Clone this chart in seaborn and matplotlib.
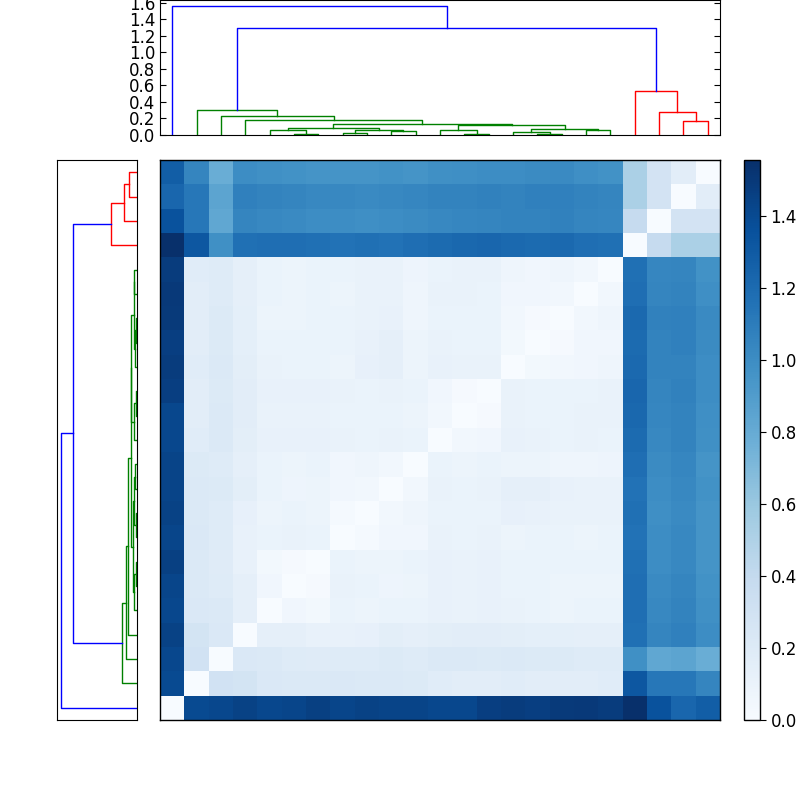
import numpy as np
import matplotlib
matplotlib.use('Agg')
import matplotlib.pyplot as plt
import seaborn as sns

# leaves are numbered in display order (left->right, bottom->top)
n_leaves = 23

# linkage: ids >= 23 refer to the merge with index id-23
merge_left = [5, 12, 15, 7, 14, 9, 4, 11, 17, 26, 27, 29, 30, 34, 21, 3, 2, 20, 1, 19, 41, 0]
merge_right = [6, 13, 16, 8, 25, 10, 23, 24, 18, 28, 31, 32, 33, 35, 22, 36, 38, 37, 39, 40, 42, 43]
merge_height = [0.016, 0.016, 0.016, 0.028, 0.040, 0.050, 0.057, 0.057, 0.057, 0.065,
                0.068, 0.081, 0.125, 0.130, 0.170, 0.178, 0.230, 0.275, 0.305, 0.533,
                1.300, 1.556]

# lower triangle of the distance matrix, row i holds D[i, 0:i]
dist_rows = [
    [],
    [1.40],
    [1.42, 0.30],
    [1.45, 0.28, 0.23],
    [1.42, 0.23, 0.22, 0.14],
    [1.43, 0.22, 0.20, 0.14, 0.06],
    [1.46, 0.22, 0.19, 0.12, 0.04, 0.02],
    [1.43, 0.23, 0.20, 0.12, 0.10, 0.11, 0.10],
    [1.45, 0.22, 0.20, 0.13, 0.09, 0.10, 0.09, 0.03],
    [1.44, 0.22, 0.21, 0.16, 0.10, 0.08, 0.09, 0.06, 0.05],
    [1.44, 0.21, 0.20, 0.14, 0.10, 0.09, 0.10, 0.06, 0.07, 0.05],
    [1.42, 0.18, 0.22, 0.16, 0.12, 0.12, 0.12, 0.11, 0.10, 0.11, 0.10],
    [1.42, 0.17, 0.22, 0.17, 0.11, 0.11, 0.11, 0.10, 0.10, 0.10, 0.09, 0.05],
    [1.47, 0.17, 0.21, 0.17, 0.12, 0.12, 0.12, 0.11, 0.10, 0.11, 0.10, 0.06, 0.02],
    [1.48, 0.18, 0.22, 0.16, 0.11, 0.10, 0.10, 0.09, 0.13, 0.14, 0.09, 0.12, 0.11, 0.11],
    [1.47, 0.17, 0.21, 0.15, 0.10, 0.10, 0.10, 0.10, 0.12, 0.14, 0.09, 0.11, 0.10, 0.10, 0.04],
    [1.49, 0.17, 0.21, 0.15, 0.09, 0.09, 0.10, 0.10, 0.11, 0.12, 0.07, 0.10, 0.10, 0.10, 0.05, 0.02],
    [1.50, 0.17, 0.20, 0.14, 0.10, 0.09, 0.10, 0.09, 0.11, 0.11, 0.07, 0.11, 0.11, 0.10, 0.06, 0.06, 0.05],
    [1.48, 0.18, 0.20, 0.14, 0.10, 0.09, 0.10, 0.10, 0.11, 0.11, 0.08, 0.10, 0.11, 0.11, 0.07, 0.06, 0.07, 0.05],
    [1.556, 1.32, 0.98, 1.17, 1.18, 1.18, 1.17, 1.16, 1.17, 1.16, 1.18, 1.20, 1.22, 1.23, 1.21, 1.20,
     1.21, 1.18, 1.17],
    [1.35, 1.13, 0.83, 1.05, 1.03, 1.02, 1.00, 1.00, 0.99, 1.00, 1.01, 1.03, 1.04, 1.05, 1.06, 1.06,
     1.07, 1.05, 1.04, 0.39],
    [1.23, 1.13, 0.85, 1.08, 1.06, 1.05, 1.03, 1.03, 1.02, 1.03, 1.04, 1.06, 1.06, 1.07, 1.06, 1.08,
     1.08, 1.06, 1.05, 0.52, 0.29],
    [1.28, 1.05, 0.79, 1.00, 0.98, 0.97, 0.96, 0.96, 0.96, 0.97, 0.96, 0.98, 0.99, 1.00, 1.00, 1.01,
     1.02, 0.99, 0.97, 0.52, 0.29, 0.17],
]

cluster_colors = ['g', 'r', 'c', 'm', 'y', 'k']
above_color = 'b'


def build_matrix(rows, n):
    D = np.zeros((n, n))
    for i, row in enumerate(rows):
        D[i, :i] = row
    return D + D.T


def dendro_links(left, right, heights, n):
    # scipy-like layout: leaf k at 10*k + 5
    pos = {k: 10 * k + 5 for k in range(n)}
    hgt = {k: 0.0 for k in range(n)}
    links = {}
    for m, (a, b, h) in enumerate(zip(left, right, heights)):
        node = n + m
        links[node] = ([pos[a], pos[a], pos[b], pos[b]], [hgt[a], h, h, hgt[b]])
        pos[node] = (pos[a] + pos[b]) / 2
        hgt[node] = h

    # colour the links: clusters below 0.7*max get their own colour
    thresh = 0.7 * max(heights)
    colors = {}
    counter = [0]

    def paint(node, color):
        if node < n:
            return
        m = node - n
        h = heights[m]
        if color is None and h < thresh:
            color = cluster_colors[counter[0] % len(cluster_colors)]
            counter[0] += 1
        colors[node] = color if color is not None else above_color
        paint(left[m], color)
        paint(right[m], color)

    paint(n + len(heights) - 1, None)
    return [(links[k][0], links[k][1], colors[k]) for k in sorted(links)]


D = build_matrix(dist_rows, n_leaves)
links = dendro_links(merge_left, merge_right, merge_height, n_leaves)
top = max(merge_height) * 1.05

plt.rcParams['font.family'] = ['DejaVu Sans']
plt.rcParams['font.size'] = 10
fig = plt.figure(figsize=(8, 8), dpi=100)
fig.patch.set_facecolor('white')

# top dendrogram
ax_top = fig.add_axes([0.2, 0.83125, 0.7, 0.16875])
for xs, ys, c in links:
    ax_top.plot(xs, ys, color=c, lw=1.0)
ax_top.set_xlim(0, n_leaves * 10)
ax_top.set_ylim(0, top)
ax_top.set_xticks([])
ax_top.set_yticks(np.arange(0, 1.61, 0.2))
ax_top.yaxis.set_ticks_position('both')
ax_top.tick_params(axis='y', direction='in', length=4, labelsize=12)

# left dendrogram
ax_left = fig.add_axes([0.07125, 0.1, 0.1, 0.7])
for xs, ys, c in links:
    ax_left.plot(ys, xs, color=c, lw=1.0)
ax_left.set_ylim(0, n_leaves * 10)
ax_left.set_xlim(top, 0)
ax_left.set_xticks([])
ax_left.set_yticks([])

# heatmap, leaf 0 at the bottom
ax_hm = fig.add_axes([0.2, 0.1, 0.7, 0.7])
ax_cb = fig.add_axes([0.93, 0.1, 0.02, 0.7])
sns.heatmap(D[::-1], cmap='Blues', vmin=0, vmax=D.max(), ax=ax_hm, cbar_ax=ax_cb,
            xticklabels=False, yticklabels=False)
for s in ax_hm.spines.values():
    s.set_visible(True)
    s.set_linewidth(1.0)
    s.set_color('black')
cb = ax_hm.collections[0].colorbar
cb.outline.set_linewidth(1.0)
cb.outline.set_edgecolor('black')
cb.set_ticks(np.arange(0, 1.41, 0.2))
cb.ax.yaxis.set_major_formatter(matplotlib.ticker.FormatStrFormatter('%.1f'))
cb.ax.tick_params(labelsize=12, length=4)

plt.savefig('out.png', dpi=100, facecolor='white')
plt.close()
